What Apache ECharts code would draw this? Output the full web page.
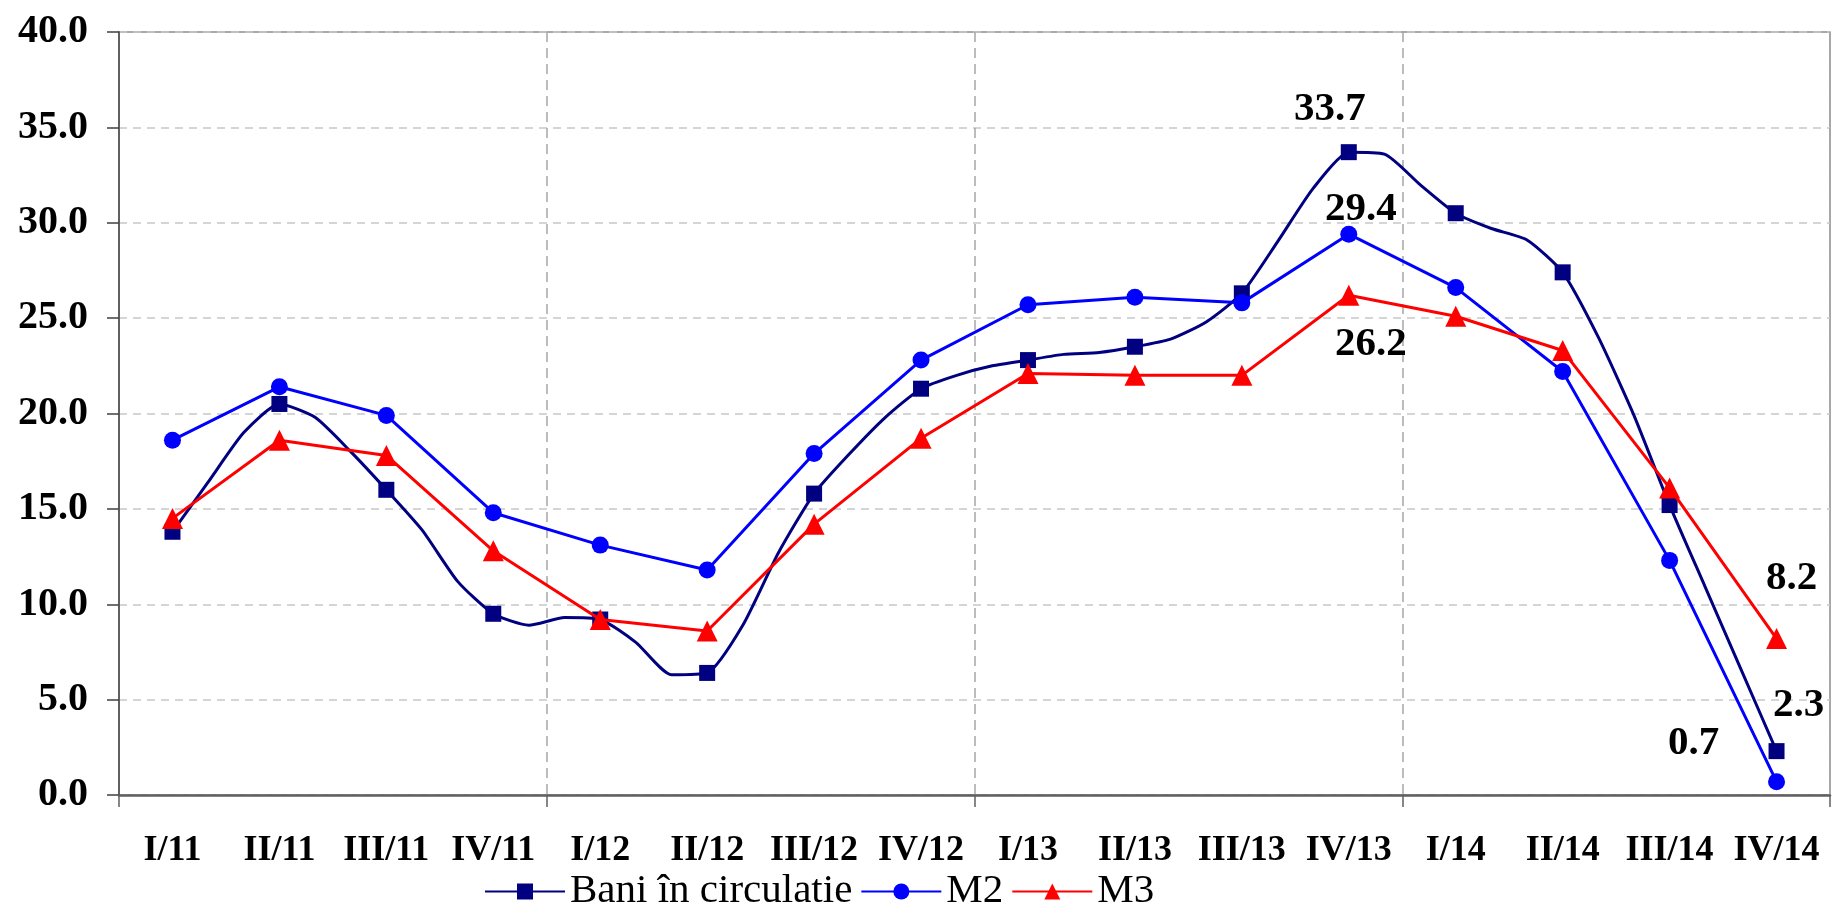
<!DOCTYPE html>
<html>
<head>
<meta charset="utf-8">
<script src="https://cdn.jsdelivr.net/npm/echarts@6/dist/echarts.min.js"></script>
<style>
html,body{margin:0;padding:0;background:#ffffff;}
#chart{width:1832px;height:906px;}
</style>
</head>
<body>
<div id="chart"></div>
<script>
// ---- data ----
const quarters = ['I/11','II/11','III/11','IV/11','I/12','II/12','III/12','IV/12','I/13','II/13','III/13','IV/13','I/14','II/14','III/14','IV/14'];
// monthly "Bani în circulatie" (markers on every third point = quarter)
const baniMonthly = [
  13.8, 16.4, 19.0,
  20.5, 19.8, 18.0,
  16.0, 13.9, 11.2,
  9.5, 8.9, 9.3,
  9.2, 8.0, 6.3,
  6.4, 8.9, 12.7,
  15.8, 17.9, 19.8,
  21.3, 22.0, 22.5,
  22.8, 23.1, 23.2,
  23.5, 23.9, 24.8,
  26.3, 29.0, 31.8,
  33.7, 33.6, 32.0,
  30.5, 29.7, 29.1,
  27.4, 24.0, 19.9,
  15.2, 10.9, 6.6,
  2.3
];
const m2Values = [18.6, 21.4, 19.9, 14.8, 13.1, 11.8, 17.9, 22.8, 25.7, 26.1, 25.8, 29.4, 26.6, 22.2, 12.3, 0.7];
const m3Values = [14.5, 18.6, 17.8, 12.8, 9.2, 8.6, 14.2, 18.7, 22.1, 22.0, 22.0, 26.2, 25.1, 23.3, 16.1, 8.2];
const seriesNames = ['Bani în circulatie', 'M2', 'M3'];
const yTicks = {min: 0, max: 40, step: 5};

// ---- presentation ----
const FONT = "'Liberation Serif', 'Times New Roman', serif";
const labelFont = {fontFamily: FONT, fontWeight: 'bold', fontSize: 41, color: '#000'};
const labelOffsets = {
  bani: {33: [-19, -43], 45: [22, -46]},
  m2:   {11: [12, -25], 15: [-83, -38]},
  m3:   {11: [22, 49], 15: [15, -60]}
};
function labelFor(off) {
  return {show: true, position: 'inside', offset: off, ...labelFont};
}
const baniData = baniMonthly.map((v, i) => {
  const item = [i / 3, v];
  return labelOffsets.bani[i] ? {value: item, label: labelFor(labelOffsets.bani[i])} : item;
});
function quarterData(values, offs) {
  return values.map((v, i) => offs[i] ? {value: v, label: labelFor(offs[i])} : v);
}
const everyFourth = (index) => index % 4 === 0;

const chart = echarts.init(document.getElementById('chart'), null, {renderer: 'canvas'});
chart.setOption({
  animation: false,
  backgroundColor: '#ffffff',
  grid: {left: 119, right: 2, top: 32, bottom: 111, show: true, borderColor: '#8c8c8c', borderWidth: 1.5, containLabel: false},
  legend: {
    data: seriesNames,
    left: 479, top: 866,
    itemWidth: 80, itemHeight: 20, itemGap: 8,
    textStyle: {fontFamily: FONT, fontSize: 41, color: '#000'}
  },
  xAxis: [
    {
      type: 'category', data: quarters, boundaryGap: true,
      axisLine: {show: true, onZero: false, lineStyle: {color: '#606060', width: 2.5}},
      axisTick: {show: true, interval: everyFourth, length: 12, lineStyle: {color: '#606060', width: 1.5}},
      axisLabel: {interval: 0, margin: 38, fontFamily: FONT, fontWeight: 'bold', fontSize: 36, color: '#000'},
      splitLine: {show: true, interval: everyFourth, lineStyle: {color: '#a6a6a6', width: 1.5, type: [10, 6]}}
    },
    {
      type: 'value', min: -0.5, max: 15.5, show: false,
      splitLine: {show: false}, axisLine: {show: false, onZero: false}, axisTick: {show: false}, axisLabel: {show: false}
    }
  ],
  yAxis: {
    type: 'value', min: yTicks.min, max: yTicks.max, interval: yTicks.step,
    axisLine: {show: true, onZero: false, lineStyle: {color: '#606060', width: 2}},
    axisTick: {show: true, length: 12, lineStyle: {color: '#404040', width: 1.5}},
    axisLabel: {margin: 31, fontFamily: FONT, fontWeight: 'bold', fontSize: 40, color: '#000', formatter: v => v.toFixed(1)},
    splitLine: {show: true, lineStyle: {color: '#c8c8c8', width: 1.5, type: [8, 6]}}
  },
  series: [
    {
      name: seriesNames[0], type: 'line', xAxisIndex: 1,
      data: baniData, smooth: 0.2,
      symbol: 'rect', showSymbol: true, showAllSymbol: true,
      symbolSize: (val, params) => (params.dataIndex % 3 === 0 ? 16 : 0),
      lineStyle: {color: '#000080', width: 3},
      itemStyle: {color: '#000080'},
      label: {show: false, formatter: p => p.value[1].toFixed(1)},
      z: 2
    },
    {
      name: seriesNames[1], type: 'line', xAxisIndex: 0,
      data: quarterData(m2Values, labelOffsets.m2),
      symbol: 'circle', symbolSize: 17,
      lineStyle: {color: '#0000ff', width: 3},
      itemStyle: {color: '#0000ff'},
      label: {show: false, formatter: p => p.value.toFixed(1)},
      z: 3
    },
    {
      name: seriesNames[2], type: 'line', xAxisIndex: 0,
      data: quarterData(m3Values, labelOffsets.m3),
      symbol: 'triangle', symbolSize: 21,
      lineStyle: {color: '#ff0000', width: 3},
      itemStyle: {color: '#ff0000'},
      label: {show: false, formatter: p => p.value.toFixed(1)},
      z: 4
    }
  ]
});
</script>
</body>
</html>
